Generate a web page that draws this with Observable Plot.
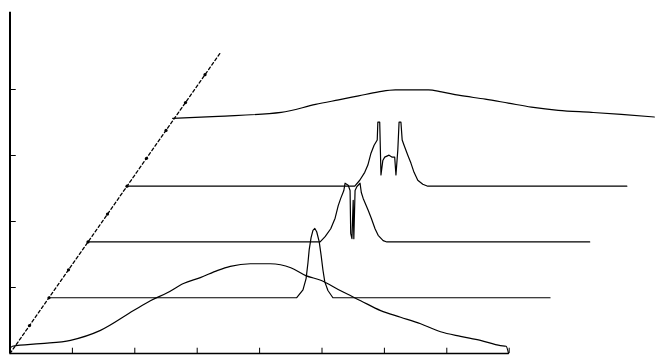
<!DOCTYPE html>
<html>
<head>
<meta charset="utf-8">
<script src="https://cdn.jsdelivr.net/npm/d3@7"></script>
<script src="https://cdn.jsdelivr.net/npm/@observablehq/plot@0.6"></script>
<style>
  html, body { margin: 0; padding: 0; background: #fff; }
  #chart svg { display: block; }
</style>
</head>
<body>
<div id="chart"></div>
<script>
// ---- data (local x along the spectrum axis, local y height above each trace's baseline) ----
const trace1 = [
  [0.00,0.08],[0.04,0.11],[0.49,0.15],[0.97,0.20],[1.45,0.35],[1.98,0.65],[2.25,0.80],[2.52,0.92],
  [2.78,1.06],[3.05,1.15],[3.33,1.26],[3.53,1.32],[3.85,1.36],[4.17,1.36],[4.50,1.30],[4.74,1.18],
  [4.98,1.11],[5.30,0.95],[5.62,0.80],[5.94,0.65],[6.26,0.55],[6.58,0.45],[6.90,0.33],[7.22,0.26],
  [7.54,0.20],[7.86,0.12],[7.95,0.11],[7.99,0.00]
];
const trace2 = [
  [0,0],[3.97,0],[4.07,0.12],[4.12,0.29],[4.15,0.53],[4.17,0.73],[4.20,0.91],[4.23,1.02],[4.26,1.05],
  [4.29,1.00],[4.33,0.85],[4.36,0.65],[4.39,0.42],[4.42,0.24],[4.47,0.11],[4.55,0],[8.03,0]
];
const trace3 = [
  [0,0],[3.72,0],[3.80,0.08],[3.89,0.20],[3.96,0.36],[4.01,0.55],[4.05,0.66],[4.10,0.78],[4.12,0.89],
  [4.17,0.86],[4.20,0.78],[4.21,0.13],[4.23,0.05],[4.25,0.63],[4.26,0.05],[4.28,0.78],[4.31,0.84],
  [4.36,0.89],[4.38,0.75],[4.41,0.66],[4.49,0.48],[4.54,0.36],[4.60,0.20],[4.65,0.10],[4.73,0.02],
  [4.79,0],[8.04,0]
];
const trace4 = [
  [0,0],[3.65,0],[3.73,0.09],[3.81,0.21],[3.86,0.32],[3.91,0.50],[3.96,0.62],[4.01,0.70],[4.02,0.97],
  [4.05,0.97],[4.07,0.17],[4.10,0.39],[4.13,0.44],[4.20,0.47],[4.25,0.44],[4.29,0.44],[4.31,0.17],
  [4.34,0.55],[4.36,0.97],[4.39,0.97],[4.41,0.70],[4.44,0.62],[4.50,0.47],[4.55,0.35],[4.60,0.21],
  [4.66,0.09],[4.74,0.03],[4.82,0],[8.01,0]
];
const trace5 = [
  [0,0.04],[0.73,0.07],[1.74,0.13],[2.29,0.25],[2.66,0.32],[2.98,0.38],[3.30,0.44],[3.57,0.47],
  [4.10,0.47],[4.31,0.44],[4.58,0.39],[5.01,0.33],[5.38,0.27],[5.75,0.21],[6.18,0.16],[6.71,0.13],
  [7.19,0.10],[7.72,0.06]
];
const traces = [trace1, trace2, trace3, trace4, trace5];
const depths = [0, 1, 2, 3, 4.17];          // depth (third axis) of each trace
const smoothTraces = [0, 4];                 // broad traces drawn with a smooth curve
const depthAxisEnd = 5.4;                    // length of the oblique depth axis
const depthTicks = [0.5,1,1.5,2,2.5,3,3.5,4,4.5,5];
const xTicks = [1,2,3,4,5,6,7,8];
const yTicks = [1,2,3,4];
const xMax = 8, yTop = 5.17;

// oblique projection of depth onto the (x, y) plane
const DX = 0.625, DY = 0.845;

const rows = [];
traces.forEach((t, i) => t.forEach(([x, y]) => rows.push({trace: i, smooth: smoothTraces.includes(i), x: x + depths[i]*DX, y: y + depths[i]*DY})));
const diag = [0, depthAxisEnd].map(d => ({x: d*DX, y: d*DY}));
const diagTicks = depthTicks.map(d => ({x: d*DX, y: d*DY}));

const chart = Plot.plot({
  width: 656,
  height: 356,
  margin: 0,
  style: {background: "white", overflow: "visible"},
  x: {domain: [0, xMax], range: [9.5, 508.7], axis: null},
  y: {domain: [0, 4], range: [353, 89], axis: null},
  marks: [
    // axes
    Plot.ruleX([0], {y1: 0, y2: yTop, stroke: "black", strokeWidth: 2}),
    Plot.ruleY([0], {x1: 0, x2: xMax, stroke: "black", strokeWidth: 1.5}),
    Plot.ruleX(xTicks, {x: d => d, y1: 0, y2: 0.08, stroke: "black", strokeWidth: 1}),
    Plot.ruleY(yTicks, {y: d => d, x1: 0, x2: 0.1, stroke: "black", strokeWidth: 1}),
    // oblique depth axis
    Plot.line(diag, {x: "x", y: "y", stroke: "black", strokeWidth: 1.3, strokeDasharray: "3,2.5"}),
    Plot.dot(diagTicks, {x: "x", y: "y", r: 1.6, fill: "black"}),
    // traces
    Plot.line(rows.filter(d => d.smooth), {x: "x", y: "y", z: "trace", curve: "monotone-x", stroke: "black", strokeWidth: 1.2}),
    Plot.line(rows.filter(d => !d.smooth), {x: "x", y: "y", z: "trace", stroke: "black", strokeWidth: 1.2})
  ]
});
document.getElementById("chart").append(chart);
</script>
</body>
</html>
